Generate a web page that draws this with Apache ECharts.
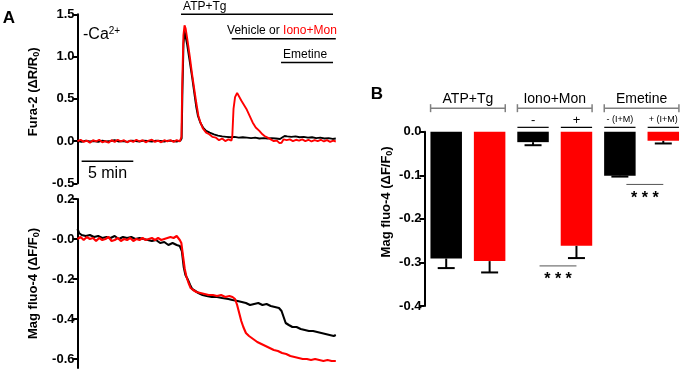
<!DOCTYPE html>
<html>
<head>
<meta charset="utf-8">
<script src="https://cdn.jsdelivr.net/npm/echarts@6/dist/echarts.min.js"></script>
<style>
  html, body { margin: 0; padding: 0; background: #fff; }
  #chart { width: 685px; height: 373px; }
</style>
</head>
<body>
<div id="chart"></div>
<script>
// ---- Panel A: Fura-2 traces, [time (min), dR/R0] ----
const furaVehicle = [
  [0, 0.0], [0.4, -0.01], [0.8, 0.005], [1.2, -0.005], [1.6, 0.0], [2.0, -0.01], [2.4, 0.005], [2.8, -0.005],
  [3.2, 0.0], [3.6, 0.01], [4.0, -0.005], [4.4, 0.0], [4.8, -0.01], [5.2, 0.005], [5.6, 0.0], [6.0, -0.005],
  [6.4, 0.005], [6.8, 0.0], [7.2, -0.005], [7.6, 0.005], [8.0, 0.0], [8.4, -0.005], [8.8, 0.005], [9.2, 0.0],
  [9.6, -0.005], [9.95, 0.005], [10.08, 0.03], [10.16, 0.6], [10.26, 1.15], [10.36, 1.3], [10.46, 1.28],
  [10.6, 1.15], [10.84, 0.96], [11.1, 0.75], [11.35, 0.53], [11.5, 0.4], [11.65, 0.3], [11.88, 0.22],
  [12.15, 0.16], [12.45, 0.12], [12.8, 0.1], [13.2, 0.08], [13.6, 0.065], [14.0, 0.055], [14.4, 0.05],
  [14.8, 0.045], [15.2, 0.05], [15.6, 0.04], [16.0, 0.045], [16.4, 0.04], [16.8, 0.035], [17.2, 0.04],
  [17.6, 0.03], [18.0, 0.035], [18.4, 0.03], [18.8, 0.035], [19.2, 0.03], [19.6, 0.025], [19.85, 0.045],
  [20.05, 0.06], [20.3, 0.055], [20.7, 0.05], [21.1, 0.055], [21.5, 0.045], [21.9, 0.05], [22.3, 0.04],
  [22.7, 0.045], [23.1, 0.035], [23.5, 0.04], [23.9, 0.03], [24.3, 0.035], [24.7, 0.025], [25.0, 0.03]
];
const furaIonoMon = [
  [0, 0.0], [0.3, 0.015], [0.6, -0.01], [0.9, 0.005], [1.2, -0.02], [1.5, 0.01], [1.8, -0.005], [2.1, 0.015],
  [2.4, -0.015], [2.7, 0.0], [3.0, -0.02], [3.3, 0.01], [3.6, -0.01], [3.9, 0.015], [4.2, -0.005], [4.5, 0.01],
  [4.8, -0.015], [5.1, 0.005], [5.4, -0.01], [5.7, 0.015], [6.0, -0.005], [6.3, 0.01], [6.6, -0.015],
  [6.9, 0.005], [7.2, 0.015], [7.5, -0.01], [7.8, 0.005], [8.1, -0.015], [8.4, 0.01], [8.7, -0.005],
  [9.0, 0.01], [9.3, -0.01], [9.6, 0.01], [9.9, -0.005], [10.06, 0.05], [10.14, 0.7], [10.25, 1.25],
  [10.36, 1.37], [10.47, 1.33], [10.66, 1.18], [10.87, 1.0], [11.08, 0.8], [11.32, 0.6], [11.5, 0.45],
  [11.7, 0.3], [11.9, 0.22], [12.13, 0.15], [12.45, 0.1], [12.75, 0.08], [13.05, 0.05], [13.4, 0.04],
  [13.7, 0.01], [14.0, 0.03], [14.3, 0.0], [14.6, 0.02], [14.9, 0.005], [14.98, 0.05], [15.1, 0.38],
  [15.25, 0.52], [15.45, 0.57], [15.6, 0.55], [15.85, 0.48], [16.1, 0.43], [16.35, 0.38], [16.65, 0.3],
  [16.95, 0.22], [17.25, 0.16], [17.6, 0.12], [17.9, 0.08], [18.1, 0.06], [18.4, 0.04], [18.7, 0.02],
  [19.0, 0.0], [19.3, 0.005], [19.55, -0.025], [19.75, -0.02], [19.95, 0.02], [20.25, 0.01], [20.55, 0.02],
  [20.85, 0.0], [21.15, 0.015], [21.45, 0.005], [21.75, 0.02], [22.05, 0.0], [22.35, 0.015], [22.65, -0.005],
  [22.95, 0.01], [23.25, 0.0], [23.55, 0.015], [23.85, -0.005], [24.15, 0.01], [24.45, -0.01], [24.75, 0.005],
  [25.0, -0.005]
];

// ---- Panel A: Mag fluo-4 traces, [time (min), dF/F0] ----
const magVehicle = [
  [0, 0.05], [0.15, 0.03], [0.4, 0.02], [0.8, 0.015], [1.2, 0.02], [1.6, 0.01], [2.0, 0.015], [2.4, 0.005],
  [2.8, 0.01], [3.2, 0.005], [3.6, 0.015], [4.0, 0.0], [4.4, 0.01], [4.8, 0.005], [5.2, 0.01], [5.6, 0.0],
  [6.0, 0.005], [6.4, 0.0], [6.8, -0.005], [7.2, -0.01], [7.6, -0.005], [8.0, -0.02], [8.4, -0.015],
  [8.8, -0.03], [9.2, -0.02], [9.6, -0.03], [9.9, -0.035], [10.1, -0.06], [10.28, -0.14], [10.45, -0.18],
  [10.65, -0.2], [10.9, -0.23], [11.1, -0.25], [11.4, -0.26], [11.7, -0.27], [12.1, -0.28], [12.5, -0.285],
  [13.0, -0.29], [13.5, -0.29], [14.0, -0.295], [14.6, -0.3], [15.0, -0.305], [15.5, -0.31], [15.9, -0.315],
  [16.3, -0.32], [16.7, -0.33], [17.1, -0.325], [17.5, -0.32], [17.9, -0.33], [18.3, -0.325], [18.7, -0.335],
  [19.1, -0.34], [19.5, -0.345], [19.75, -0.36], [19.95, -0.39], [20.15, -0.42], [20.45, -0.43], [20.8, -0.44],
  [21.2, -0.44], [21.6, -0.45], [22.0, -0.455], [22.4, -0.46], [22.8, -0.46], [23.2, -0.465], [23.6, -0.47],
  [24.0, -0.475], [24.4, -0.48], [24.8, -0.485], [25.0, -0.48]
];
const magIonoMon = [
  [0, 0.0], [0.3, 0.01], [0.6, -0.005], [0.9, 0.01], [1.2, 0.0], [1.5, 0.005], [1.8, -0.01], [2.1, 0.005],
  [2.4, -0.005], [2.7, 0.0], [3.0, 0.01], [3.3, -0.01], [3.6, -0.005], [3.9, 0.005], [4.2, -0.01], [4.5, 0.0],
  [4.8, -0.005], [5.1, 0.005], [5.4, -0.01], [5.7, 0.0], [6.0, -0.005], [6.3, 0.005], [6.6, -0.005], [6.9, 0.0],
  [7.2, 0.005], [7.5, -0.005], [7.8, 0.005], [8.1, -0.005], [8.4, 0.0], [8.7, 0.005], [9.0, 0.01], [9.3, 0.005],
  [9.6, 0.015], [9.9, -0.005], [10.05, -0.02], [10.2, -0.08], [10.38, -0.15], [10.55, -0.19], [10.75, -0.22],
  [10.95, -0.245], [11.2, -0.255], [11.5, -0.265], [11.9, -0.27], [12.3, -0.275], [12.7, -0.28], [13.1, -0.28],
  [13.5, -0.285], [13.9, -0.28], [14.3, -0.29], [14.7, -0.285], [15.0, -0.29], [15.25, -0.3], [15.45, -0.33],
  [15.65, -0.37], [15.85, -0.41], [16.05, -0.44], [16.3, -0.47], [16.6, -0.485], [17.0, -0.5], [17.4, -0.515],
  [17.8, -0.525], [18.2, -0.535], [18.6, -0.545], [19.0, -0.555], [19.4, -0.56], [19.8, -0.57], [20.2, -0.575],
  [20.6, -0.585], [21.0, -0.59], [21.4, -0.595], [21.8, -0.6], [22.2, -0.6], [22.6, -0.605], [23.0, -0.6],
  [23.4, -0.605], [23.8, -0.61], [24.2, -0.605], [24.6, -0.61], [25.0, -0.61]
];

// treatments above the Fura-2 trace (min)
const treatmentNames = ['ATP+Tg', 'Vehicle or Iono+Mon', 'Emetine'];
const treatmentStart = [10.02, 14.93, 19.7];
const treatmentEnd = [24.73, 25.0, 24.73];
const scaleBarMin = [0.4, 5.4];

// ---- Panel B: summary bars ----
const barValues = [-0.291, -0.297, -0.024, -0.262, -0.101, -0.021];
const barErrors = [-0.313, -0.323, -0.031, -0.290, -0.103, -0.027];
const groupNames = ['ATP+Tg', 'Iono+Mon', 'Emetine'];
const subLabels = ['', '', '-', '+', '- (I+M)', '+ (I+M)'];
const sigPairs = [[2, 3], [4, 5]];
const sigText = '* * *';

const FONT = '"Liberation Sans", Arial, Helvetica, sans-serif';
const RED = '#ff0000';
const halfBar = 0.36;

const chart = echarts.init(document.getElementById('chart'));

function yAxisBase(grid) {
  return {
    type: 'value',
    gridIndex: grid,
    splitLine: { show: false },
    axisLine: { show: true, onZero: false, lineStyle: { color: '#000', width: 2 } },
    axisTick: { show: true, length: 5, lineStyle: { color: '#000', width: 2 } },
    axisLabel: { color: '#000', fontFamily: FONT, fontWeight: 'bold', fontSize: 13, margin: 3,
      formatter: v => v.toFixed(1) },
    nameLocation: 'middle',
    nameRotate: 90
  };
}
function xAxisHidden(grid, min, max) {
  return { type: 'value', gridIndex: grid, min: min, max: max, show: false,
    axisLine: { onZero: false }, splitLine: { show: false } };
}
const titleRich = {
  a: { fontFamily: FONT, fontWeight: 'bold', fontSize: 13, color: '#000', lineHeight: 16 },
  b: { fontFamily: FONT, fontWeight: 'bold', fontSize: 9, color: '#000', lineHeight: 16, verticalAlign: 'bottom', padding: [7, 0, 0, 0] }
};

function line(a, b, color, width) {
  return { type: 'line', shape: { x1: a[0], y1: a[1], x2: b[0], y2: b[1] },
    style: { stroke: color, lineWidth: width } };
}

const option = {
  animation: false,
  backgroundColor: '#fff',
  grid: [
    { left: 77.5, top: 14.3, width: 258.3, height: 169 },
    { left: 77.5, top: 199, width: 258.3, height: 169 },
    { left: 424.5, top: 131.7, width: 261, height: 174.3 }
  ],
  xAxis: [
    xAxisHidden(0, 0, 25),
    xAxisHidden(1, 0, 25),
    xAxisHidden(2, -0.5, 5.5)
  ],
  yAxis: [
    Object.assign(yAxisBase(0), {
      min: -0.5, max: 1.5, interval: 0.5,
      name: '{a|Fura-2 (ΔR/R}{b|0}{a|)}', nameGap: 36,
      nameTextStyle: { rich: titleRich, padding: [0, 0, 0, 14] }
    }),
    Object.assign(yAxisBase(1), {
      min: -0.645, max: 0.2,
      name: '{a|Mag fluo-4 (ΔF/F}{b|0}{a|)}', nameGap: 36,
      nameTextStyle: { rich: titleRich }
    }),
    Object.assign(yAxisBase(2), {
      min: -0.4, max: 0, interval: 0.1,
      name: '{a|Mag fluo-4 (ΔF/F}{b|0}{a|)}', nameGap: 30,
      nameTextStyle: { rich: titleRich, padding: [0, 0, 0, 34] }
    })
  ],
  graphic: [
    { type: 'text', x: 9, y: 18, style: { text: 'A', font: 'bold 17px ' + FONT, fill: '#000', align: 'center', verticalAlign: 'middle' } },
    { type: 'text', x: 377, y: 94, style: { text: 'B', font: 'bold 17px ' + FONT, fill: '#000', align: 'center', verticalAlign: 'middle' } },
    { type: 'text', x: 83, y: 35, style: {
      text: '{n|-Ca}{s|2+}', verticalAlign: 'middle',
      rich: { n: { fontFamily: FONT, fontSize: 16, fill: '#000', lineHeight: 18 },
              s: { fontFamily: FONT, fontSize: 10, fill: '#000', lineHeight: 18, verticalAlign: 'top', padding: [0, 0, 6, 0] } }
    } }
  ],
  series: [
    { type: 'line', xAxisIndex: 0, yAxisIndex: 0, data: furaVehicle, symbol: 'none',
      lineStyle: { color: '#000', width: 1.9 }, itemStyle: { color: '#000' } },
    { type: 'line', xAxisIndex: 0, yAxisIndex: 0, data: furaIonoMon, symbol: 'none',
      lineStyle: { color: RED, width: 1.9 }, itemStyle: { color: RED } },
    { type: 'line', xAxisIndex: 1, yAxisIndex: 1, data: magVehicle, symbol: 'none',
      lineStyle: { color: '#000', width: 2.1 }, itemStyle: { color: '#000' } },
    { type: 'line', xAxisIndex: 1, yAxisIndex: 1, data: magIonoMon, symbol: 'none',
      lineStyle: { color: RED, width: 2.1 }, itemStyle: { color: RED } },
    // treatment bars + labels
    {
      type: 'custom', xAxisIndex: 0, yAxisIndex: 0, clip: false, silent: true,
      data: treatmentNames.map((n, i) => [treatmentStart[i], treatmentEnd[i]]),
      renderItem(params, api) {
        const i = params.dataIndex;
        const level = [1.5, 1.21, 0.93][i];
        const a = api.coord([api.value(0), level]);
        const b = api.coord([api.value(1), level]);
        const txt = { type: 'text', style: { font: '12px ' + FONT, fill: '#000', verticalAlign: 'bottom' } };
        if (i === 1) {
          Object.assign(txt.style, {
            x: b[0] + 1, y: a[1] - 2, align: 'right',
            text: '{k|Vehicle or }{r|Iono+Mon}',
            rich: { k: { fontFamily: FONT, fontSize: 12, fill: '#000' }, r: { fontFamily: FONT, fontSize: 12, fill: RED } }
          });
        } else {
          Object.assign(txt.style, { x: a[0] + 2, y: a[1] - 2, align: 'left', text: treatmentNames[i] });
        }
        return { type: 'group', children: [line(a, b, '#000', 1.6), txt] };
      }
    },
    // 5 min scale bar
    {
      type: 'custom', xAxisIndex: 0, yAxisIndex: 0, clip: false, silent: true,
      data: [scaleBarMin],
      renderItem(params, api) {
        const a = api.coord([api.value(0), -0.24]);
        const b = api.coord([api.value(1), -0.24]);
        return { type: 'group', children: [
          line(a, b, '#000', 1.5),
          { type: 'text', style: { x: (a[0] + b[0]) / 2, y: a[1] + 4, text: '5 min', font: '16px ' + FONT,
            fill: '#000', align: 'center', verticalAlign: 'top' } }
        ] };
      }
    },
    // Panel B bars
    {
      type: 'bar', xAxisIndex: 2, yAxisIndex: 2, barWidth: 31.5,
      data: barValues.map((v, i) => [i, v]),
      itemStyle: { color: p => (p.dataIndex % 2 ? RED : '#000') }
    },
    // error bars
    {
      type: 'custom', xAxisIndex: 2, yAxisIndex: 2, clip: false, silent: true, z: 3,
      data: barValues.map((v, i) => [i, v, barErrors[i]]),
      renderItem(params, api) {
        const m = api.coord([api.value(0), api.value(1)]);
        const e = api.coord([api.value(0), api.value(2)]);
        return { type: 'group', children: [
          line(m, e, '#000', 2),
          line([e[0] - 8.5, e[1]], [e[0] + 8.5, e[1]], '#000', 2)
        ] };
      }
    },
    // group brackets
    {
      type: 'custom', xAxisIndex: 2, yAxisIndex: 2, clip: false, silent: true,
      data: groupNames.map((n, g) => [2 * g, 0]),
      renderItem(params, api) {
        const g = params.dataIndex;
        const a = api.coord([2 * g - halfBar, 0.054]);
        const b = api.coord([2 * g + 1 + halfBar, 0.054]);
        const t = api.coord([2 * g + 0.5, 0.075]);
        const c = '#808080';
        return { type: 'group', children: [
          line(a, b, c, 1.5),
          line([a[0], a[1] - 4], [a[0], a[1] + 4], c, 1.5),
          line([b[0], b[1] - 4], [b[0], b[1] + 4], c, 1.5),
          { type: 'text', style: { x: t[0], y: t[1], text: groupNames[g], font: '14px ' + FONT, fill: '#000',
            align: 'center', verticalAlign: 'middle' } }
        ] };
      }
    },
    // per-bar sub labels
    {
      type: 'custom', xAxisIndex: 2, yAxisIndex: 2, clip: false, silent: true,
      data: subLabels.map((s, i) => [i, 0]),
      renderItem(params, api) {
        const i = params.dataIndex;
        const s = subLabels[i];
        if (!s) return { type: 'group', children: [] };
        const a = api.coord([i - halfBar, 0.010]);
        const b = api.coord([i + halfBar, 0.010]);
        const t = api.coord([i, 0.027]);
        return { type: 'group', children: [
          line(a, b, '#000', 1.2),
          { type: 'text', style: { x: t[0], y: t[1], text: s, font: (s.length > 1 ? 9 : 13) + 'px ' + FONT,
            fill: '#000', align: 'center', verticalAlign: 'middle' } }
        ] };
      }
    },
    // significance
    {
      type: 'custom', xAxisIndex: 2, yAxisIndex: 2, clip: false, silent: true,
      data: sigPairs.map(p => [p[0], 0]),
      renderItem(params, api) {
        const p = sigPairs[params.dataIndex];
        const lvl = Math.min(barErrors[p[0]], barErrors[p[1]]) - 0.018;
        const a = api.coord([p[0] + 0.15, lvl]);
        const b = api.coord([p[1], lvl]);
        return { type: 'group', children: [
          line(a, b, '#555', 1),
          { type: 'text', style: { x: (a[0] + b[0]) / 2, y: a[1] + 6, text: sigText, font: 'bold 16px ' + FONT,
            fill: '#000', align: 'center', verticalAlign: 'top' } }
        ] };
      }
    }
  ]
};

option.yAxis[1].axisLabel = Object.assign({}, option.yAxis[1].axisLabel, {
  customValues: [0.2, 0, -0.2, -0.4, -0.6],
  formatter: v => (v === 0 ? '-0.0' : v.toFixed(1))
});
option.yAxis[1].axisTick = Object.assign({}, option.yAxis[1].axisTick, {
  customValues: [0.2, 0, -0.2, -0.4, -0.6]
});

chart.setOption(option);
window.addEventListener('resize', () => chart.resize());
</script>
</body>
</html>
